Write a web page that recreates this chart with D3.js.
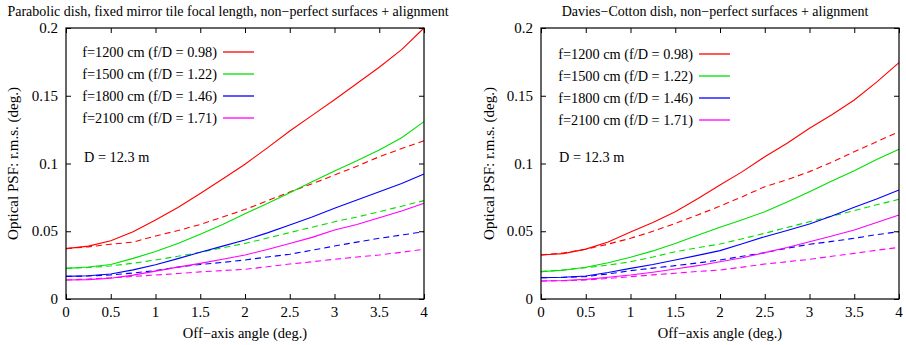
<!DOCTYPE html>
<html>
<head>
<meta charset="utf-8">
<script src="https://d3js.org/d3.v7.min.js"></script>
<style>
    body { margin: 0; background: #ffffff; }
</style>
</head>
<body>
<svg id="drawing_region"></svg>
<script>
const FONT = "'Liberation Serif', 'Times New Roman', Tinos, 'DejaVu Serif', serif";

// off-axis angle (deg.)
const angles = [0, 0.25, 0.5, 0.75, 1, 1.25, 1.5, 1.75, 2, 2.25, 2.5, 2.75, 3, 3.25, 3.5, 3.75, 4];

const legend_labels = ["f=1200 cm (f/D = 0.98)", "f=1500 cm (f/D = 1.22)",
                       "f=1800 cm (f/D = 1.46)", "f=2100 cm (f/D = 1.71)"];
const colors = ["#ff0000", "#00e000", "#0000ff", "#ff00ff"];

const xticks = [0, 0.5, 1, 1.5, 2, 2.5, 3, 3.5, 4];
const yticks = [0, 0.05, 0.1, 0.15, 0.2];

// parabolic dish: solid = non-perfect, dashed = reference
const para_solid = [
    [0.0372,0.0390,0.0430,0.0497,0.0583,0.0675,0.0778,0.0885,0.0995,0.1115,0.1240,0.1355,0.1470,0.1590,0.1710,0.1840,0.2000],
    [0.0226,0.0236,0.0255,0.0300,0.0350,0.0410,0.0478,0.0550,0.0630,0.0705,0.0785,0.0865,0.0945,0.1020,0.1100,0.1190,0.1309],
    [0.0167,0.0172,0.0185,0.0215,0.0253,0.0298,0.0345,0.0390,0.0435,0.0488,0.0546,0.0605,0.0669,0.0730,0.0792,0.0852,0.0922],
    [0.0140,0.0143,0.0153,0.0176,0.0206,0.0235,0.0263,0.0293,0.0325,0.0365,0.0410,0.0455,0.0509,0.0550,0.0600,0.0650,0.0706]
];
const para_dashed = [
    [0.0372,0.0385,0.0404,0.0420,0.0465,0.0505,0.0550,0.0605,0.0660,0.0725,0.0790,0.0850,0.0915,0.0980,0.1050,0.1110,0.1168],
    [0.0226,0.0232,0.0244,0.0264,0.0288,0.0315,0.0345,0.0378,0.0410,0.0450,0.0490,0.0530,0.0570,0.0605,0.0644,0.0685,0.0726],
    [0.0167,0.0170,0.0177,0.0192,0.0210,0.0235,0.0255,0.0270,0.0288,0.0310,0.0330,0.0360,0.0391,0.0420,0.0448,0.0472,0.0497],
    [0.0140,0.0147,0.0157,0.0166,0.0177,0.0188,0.0200,0.0210,0.0219,0.0238,0.0258,0.0275,0.0293,0.0310,0.0325,0.0345,0.0367]
];

// Davies-Cotton dish
const dc_solid = [
    [0.0325,0.0335,0.0368,0.0420,0.0495,0.0565,0.0644,0.0740,0.0841,0.0940,0.1050,0.1150,0.1260,0.1360,0.1469,0.1600,0.1744],
    [0.0202,0.0212,0.0234,0.0268,0.0308,0.0355,0.0410,0.0470,0.0529,0.0585,0.0644,0.0715,0.0792,0.0870,0.0947,0.1030,0.1105],
    [0.0157,0.0160,0.0170,0.0195,0.0226,0.0255,0.0288,0.0322,0.0357,0.0408,0.0460,0.0505,0.0553,0.0612,0.0677,0.0738,0.0804],
    [0.0133,0.0137,0.0145,0.0160,0.0177,0.0198,0.0221,0.0246,0.0275,0.0305,0.0342,0.0380,0.0423,0.0465,0.0509,0.0565,0.0620]
];
const dc_dashed = [
    [0.0325,0.0340,0.0367,0.0405,0.0448,0.0500,0.0558,0.0620,0.0686,0.0755,0.0829,0.0880,0.0940,0.1010,0.1087,0.1160,0.1235],
    [0.0202,0.0215,0.0231,0.0250,0.0275,0.0310,0.0349,0.0378,0.0406,0.0445,0.0485,0.0528,0.0570,0.0612,0.0652,0.0695,0.0736],
    [0.0157,0.0160,0.0165,0.0185,0.0209,0.0228,0.0246,0.0266,0.0288,0.0315,0.0342,0.0375,0.0404,0.0425,0.0448,0.0475,0.0497],
    [0.0133,0.0135,0.0140,0.0152,0.0165,0.0178,0.0190,0.0203,0.0214,0.0235,0.0258,0.0275,0.0293,0.0315,0.0337,0.0360,0.0381]
];

const svg = d3.select('#drawing_region')
    .attr('width', 906)
    .attr('height', 345);

class PsfPanel {

    constructor( config, solid, dashed ) {
        this.config = config;
        this.solid = solid;
        this.dashed = dashed;
        this.init();
    }

    init() {
        let self = this;
        const c = self.config;

        self.chart = svg.append('g');

        self.xscale = d3.scaleLinear()
            .domain([0, 4])
            .range([c.left, c.right]);

        self.yscale = d3.scaleLinear()
            .domain([0, 0.2])
            .range([c.bottom, c.top]);
    }

    label( x, y, txt, size, anchor ) {
        return this.chart.append('text')
            .attr('x', x)
            .attr('y', y)
            .attr('text-anchor', anchor || 'start')
            .attr('font-family', FONT)
            .attr('font-size', size)
            .text(txt);
    }

    render() {
        let self = this;
        const c = self.config;
        const x = self.xscale, y = self.yscale;

        const line = d3.line()
            .x( (d, i) => x(angles[i]) )
            .y( d => y(d) );

        // dashed curves first, then solid
        self.chart.selectAll('.dashed')
            .data(self.dashed)
            .enter()
            .append('path')
            .attr('fill', 'none')
            .attr('stroke', (d, i) => colors[i])
            .attr('stroke-width', 1.1)
            .attr('stroke-dasharray', '6,4')
            .attr('d', line);

        self.chart.selectAll('.solid')
            .data(self.solid)
            .enter()
            .append('path')
            .attr('fill', 'none')
            .attr('stroke', (d, i) => colors[i])
            .attr('stroke-width', 1.1)
            .attr('d', line);

        // axes: inward ticks on all four sides
        const tk = 5;
        self.chart.append('g')
            .attr('transform', `translate(0,${c.bottom})`)
            .call(d3.axisTop(x).tickValues(xticks).tickSize(tk).tickFormat(''));
        self.chart.append('g')
            .attr('transform', `translate(0,${c.top})`)
            .call(d3.axisBottom(x).tickValues(xticks).tickSize(tk).tickFormat(''));
        self.chart.append('g')
            .attr('transform', `translate(${c.left},0)`)
            .call(d3.axisRight(y).tickValues(yticks).tickSize(tk).tickFormat(''));
        self.chart.append('g')
            .attr('transform', `translate(${c.right},0)`)
            .call(d3.axisLeft(y).tickValues(yticks).tickSize(tk).tickFormat(''));
        self.chart.selectAll('.domain').remove();
        self.chart.selectAll('.tick line').attr('stroke', '#000');

        self.chart.append('rect')
            .attr('x', c.left).attr('y', c.top)
            .attr('width', c.right - c.left)
            .attr('height', c.bottom - c.top)
            .attr('fill', 'none')
            .attr('stroke', '#000')
            .attr('stroke-width', 1.2);

        // tick labels
        xticks.forEach( d => self.label(x(d), c.bottom + 18, d, '15px', 'middle') );
        yticks.forEach( d => self.label(c.left - 8, y(d) + 5, d, '15px', 'end') );

        // titles
        self.label(c.title_x, 16, c.title, '14px', 'middle');
        self.label((c.left + c.right) / 2, 338, 'Off\u2212axis angle (deg.)', '14.5px', 'middle');

        self.chart.append('text')
            .attr('transform', `translate(${c.ylabel_x},${(c.top + c.bottom) / 2}) rotate(-90)`)
            .attr('text-anchor', 'middle')
            .attr('font-family', FONT)
            .attr('font-size', '15px')
            .text(c.ylabel);

        // legend
        legend_labels.forEach( (d, i) => {
            const ly = c.legend_y + i * 22;
            self.label(c.legend_x, ly + 5, d, '14.3px', 'end');
            self.chart.append('line')
                .attr('x1', c.legend_x + 6)
                .attr('x2', c.legend_x + 37)
                .attr('y1', ly).attr('y2', ly)
                .attr('stroke', colors[i])
                .attr('stroke-width', 1.3);
        });

        self.label(c.left + 18, 162, 'D = 12.3 m', '14.3px');
    }
}

const left_panel = new PsfPanel({
    left: 66, right: 424, top: 28, bottom: 299,
    title: 'Parabolic dish, fixed mirror tile focal length, non\u2212perfect surfaces + alignment',
    title_x: 228,
    ylabel: 'Optical PSF:  r.m.s. (deg.)', ylabel_x: 18,
    legend_x: 217, legend_y: 52
}, para_solid, para_dashed);
left_panel.render();

const right_panel = new PsfPanel({
    left: 541, right: 899, top: 28, bottom: 299,
    title: 'Davies\u2212Cotton dish, non\u2212perfect surfaces + alignment',
    title_x: 715,
    ylabel: 'Optical PSF: r.m.s. (deg.)', ylabel_x: 494,
    legend_x: 693, legend_y: 54
}, dc_solid, dc_dashed);
right_panel.render();
</script>
</body>
</html>
